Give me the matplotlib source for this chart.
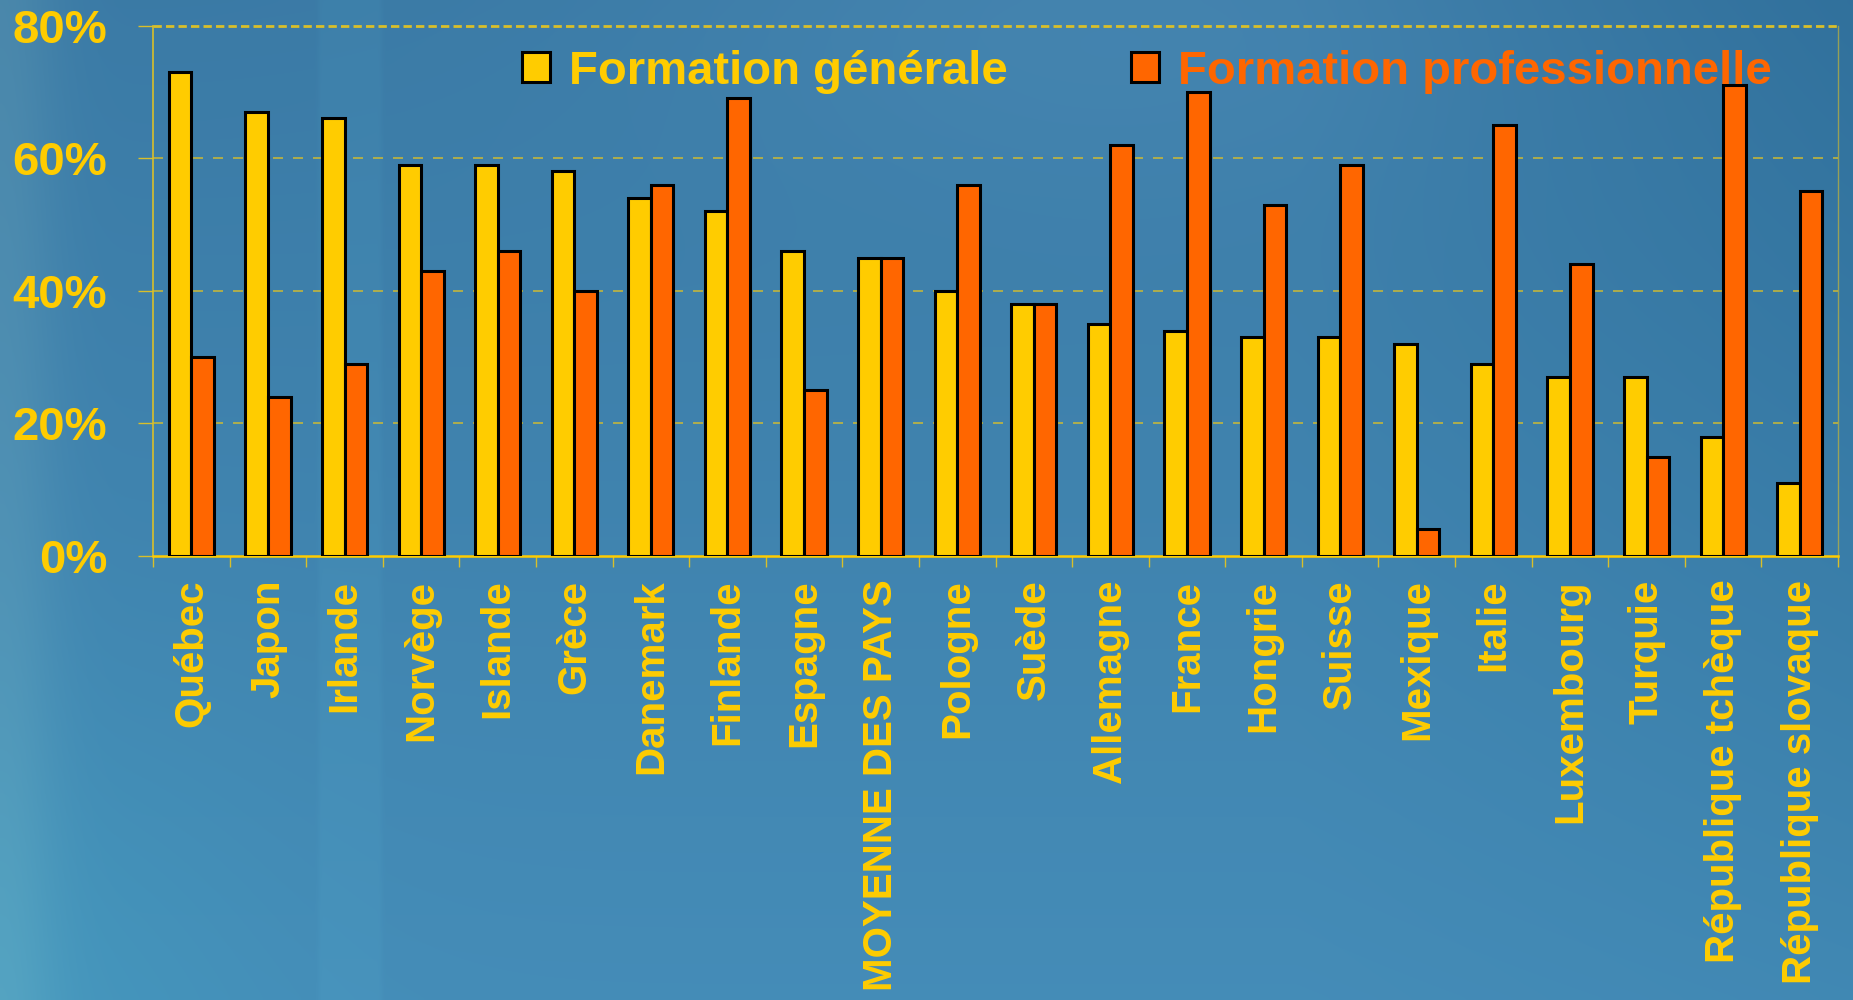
import numpy as np
import matplotlib
matplotlib.use('Agg')
import matplotlib.pyplot as plt
from matplotlib.ticker import FixedLocator, PercentFormatter

plt.rcParams['font.family'] = ['Liberation Sans', 'DejaVu Sans']
plt.rcParams['font.weight'] = 'bold'

# ----------- Données : part des élèves par filière (%) --------------
pays = ['Québec', 'Japon', 'Irlande', 'Norvège', 'Islande', 'Grèce', 'Danemark',
        'Finlande', 'Espagne', 'MOYENNE DES PAYS', 'Pologne', 'Suède', 'Allemagne',
        'France', 'Hongrie', 'Suisse', 'Mexique', 'Italie', 'Luxembourg', 'Turquie',
        'République tchèque', 'République slovaque']
formation_generale = [73, 67, 66, 59, 59, 58, 54, 52, 46, 45, 40, 38, 35, 34, 33, 33,
                      32, 29, 27, 27, 18, 11]
formation_professionnelle = [30, 24, 29, 43, 46, 40, 56, 69, 25, 45, 56, 38, 62, 70, 53,
                             59, 4, 65, 44, 15, 71, 55]
y_ticks = [0, 20, 40, 60, 80]

jaune = '#FFCC00'
orange = '#FF6600'
ligne = '#D9BF2A'

fig = plt.figure(figsize=(18.53, 10), dpi=100)

# ----------- Fond dégradé bleu --------------
H, W = 250, 500
yy, xx = np.mgrid[0:1:H * 1j, 0:1:W * 1j]
haut = np.array([0.23, 0.48, 0.65])
bas = np.array([0.27, 0.55, 0.72])
fond = haut + (bas - haut) * yy[..., None]
fond += 0.035 * np.exp(-((xx - 0.6) / 0.25) ** 2 - (yy / 0.2) ** 2)[..., None]
fond -= 0.04 * (np.clip((xx - 0.7) / 0.3, 0, 1) * (1 - 0.6 * yy))[..., None]
fond += np.exp(-(xx / 0.03) ** 2)[..., None] * np.array([0.06, 0.05, 0.02])
fond += ((xx > 0.172) & (xx < 0.205))[..., None] * np.array([0.01, 0.02, 0.015])
fond += np.exp(-(xx ** 2 / 0.02 + (yy - 1) ** 2 / 0.1))[..., None] * np.array([0.0, 0.04, 0.02])
fond = np.clip(fond, 0, 1)
ax_fond = fig.add_axes([0, 0, 1, 1], zorder=-1)
ax_fond.imshow(fond, aspect='auto', extent=[0, 1, 0, 1], interpolation='bicubic')
ax_fond.axis('off')

# ----------- Histogramme --------------
ax = fig.add_axes([0.0826, 0.444, 0.9093, 0.5305])
ax.patch.set_alpha(0)

x = np.arange(len(pays))
w = 0.295
ax.bar(x - w / 2, formation_generale, w, color=jaune, edgecolor='black',
       linewidth=2.2, label='Formation générale', zorder=3)
ax.bar(x + w / 2, formation_professionnelle, w, color=orange, edgecolor='black',
       linewidth=2.2, label='Formation professionnelle', zorder=3)

ax.set_xlim(-0.5, len(pays) - 0.5)
ax.set_ylim(0, 80)

ax.yaxis.set_major_locator(FixedLocator(y_ticks))
ax.yaxis.set_major_formatter(PercentFormatter(decimals=0))
ax.tick_params(axis='y', direction='out', length=11, width=1, color=ligne,
               labelcolor=jaune, labelsize=34, pad=22)

ax.set_xticks(x)
ax.set_xticklabels(pays, rotation=90, fontsize=29, color=jaune)
ax.xaxis.set_minor_locator(FixedLocator(np.arange(len(pays) + 1) - 0.5))
ax.tick_params(axis='x', which='major', length=0, pad=17)
ax.tick_params(axis='x', which='minor', direction='out', length=8, width=1, color=ligne)

for yv in [20, 40, 60]:
    ax.axhline(yv, color=ligne, lw=1.2, ls=(0, (6, 6)), alpha=0.85, zorder=1)
ax.axhline(80, color=ligne, lw=2, ls=(0, (3, 1.5)), zorder=1, clip_on=False)

ax.spines['top'].set_visible(False)
ax.spines['left'].set_color(ligne)
ax.spines['left'].set_linewidth(1.2)
ax.spines['bottom'].set_color(jaune)
ax.spines['bottom'].set_linewidth(1.8)
ax.spines['right'].set_color(ligne)
ax.spines['right'].set_linewidth(1)
ax.spines['right'].set_alpha(0.6)

leg = ax.legend(loc='center left', bbox_to_anchor=(0.269, 0.928),
                bbox_transform=fig.transFigure, ncol=2, frameon=False,
                fontsize=34, handlelength=0.6, handleheight=0.6,
                handletextpad=0.4, columnspacing=2.6, borderpad=0,
                labelcolor=[jaune, orange])

fig.savefig('out.png', dpi=100)
